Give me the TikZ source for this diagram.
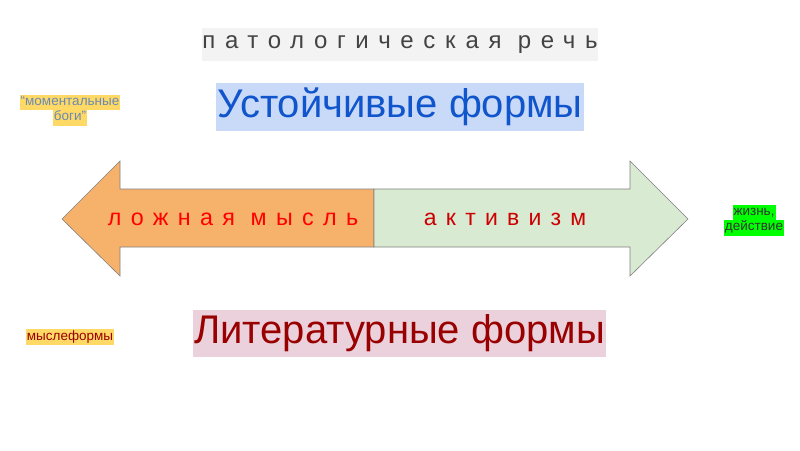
\documentclass[tikz,border=0pt]{standalone}
\usepackage{fontspec}
\setmainfont{Liberation Sans}
\newfontfamily\spaced[LetterSpace=40]{Liberation Sans}
\definecolor{titlebg}{HTML}{F3F3F3}
\definecolor{titlefg}{HTML}{434343}
\definecolor{bluebg}{HTML}{C9DAF8}
\definecolor{bluefg}{HTML}{1155CC}
\definecolor{pinkbg}{HTML}{EAD1DC}
\definecolor{darkred}{HTML}{990000}
\definecolor{yel}{HTML}{FFD966}
\definecolor{grayblue}{HTML}{6A89B5}
\definecolor{orangefill}{HTML}{F6B26B}
\definecolor{greenfill}{HTML}{D9EAD3}
\definecolor{arrowline}{HTML}{808080}
\definecolor{actred}{HTML}{CC0000}
\definecolor{lime}{HTML}{00FF00}
\newcommand{\hl}[2]{{\fboxsep=0pt\colorbox{#1}{\strut\hspace{1pt}#2\hspace{1pt}}}}
\begin{document}
\begin{tikzpicture}[x=1pt,y=-1pt,
  lbl/.style={inner sep=1pt, align=center},
  side/.style={inner sep=0pt, align=center, font=\fontsize{13.5}{15.5}\selectfont}]
\useasboundingbox (0,0) rectangle (800,450);
% title
\node[fill=titlebg, minimum width=394pt, minimum height=33pt, inner sep=0pt, text=titlefg, font=\spaced\fontsize{24}{28}\selectfont] (title) at (400,44.5) {патологическая речь};
% blue heading
\node[fill=bluebg, minimum width=368pt, minimum height=48pt, inner sep=0pt, text=bluefg, font=\fontsize{40}{44}\selectfont] (ust) at (400,107) {Устойчивые формы};
% pink heading
\node[fill=pinkbg, minimum width=413pt, minimum height=47pt, inner sep=0pt, text=darkred, font=\fontsize{40}{44}\selectfont] (lit) at (399.5,333.5) {Литературные формы};
% arrow
\filldraw[draw=arrowline, fill=orangefill, line width=0.6pt]
  (374,189) -- (120,189) -- (120,161) -- (62,219) -- (120,276) -- (120,247) -- (374,247) -- cycle;
\filldraw[draw=arrowline, fill=greenfill, line width=0.6pt]
  (374,189) -- (630,189) -- (630,161) -- (688,219) -- (630,276) -- (630,247) -- (374,247) -- cycle;
\node[lbl, text=red, font=\spaced\fontsize{23.3}{27}\selectfont] (lozh) at (233,219) {ложная мысль};
\node[lbl, text=actred, font=\spaced\fontsize{23}{27}\selectfont] (akt) at (505,219) {активизм};
% side notes
\node[side, text=grayblue] (mom) at (70,110) {\hl{yel}{“моментальные}\\\hl{yel}{боги”}};
\node[side, text=darkred] (mysl) at (70,337) {\hl{yel}{мыслеформы}};
\node[side, text=black!80] (zhizn) at (754,220) {\hl{lime}{жизнь,}\\\hl{lime}{действие}};
\end{tikzpicture}
\end{document}
